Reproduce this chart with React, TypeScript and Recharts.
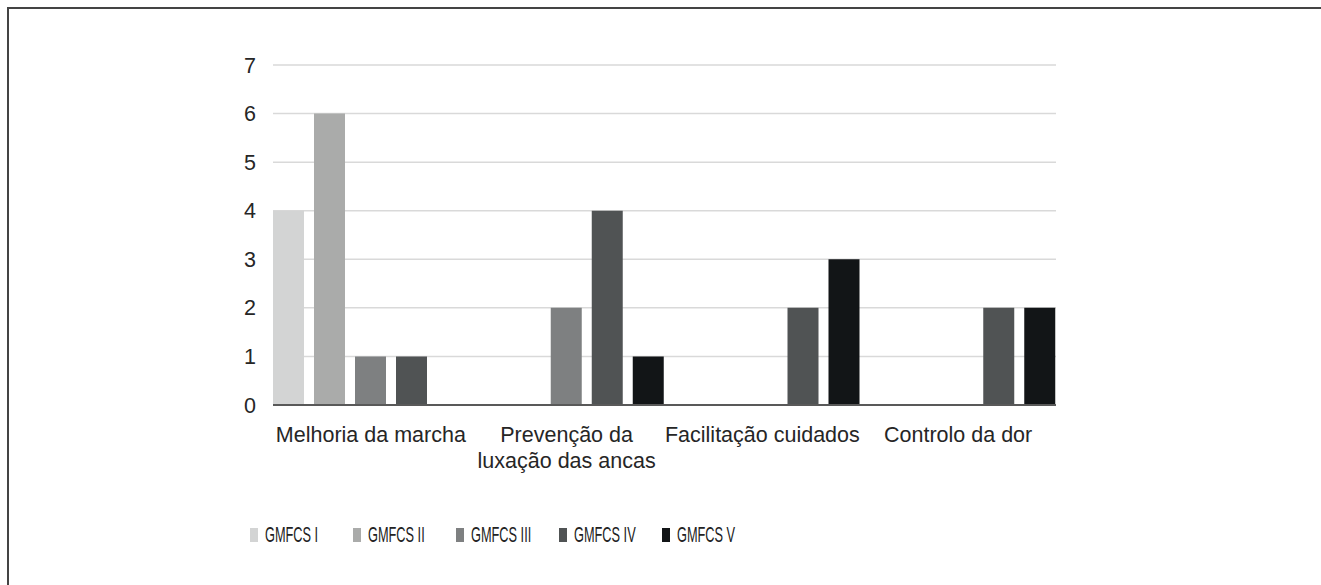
import React from "react";
import { BarChart, Bar, XAxis, YAxis, CartesianGrid, Legend } from "recharts";

const categories = [
  "Melhoria da marcha",
  "Prevenção da\nluxação das ancas",
  "Facilitação cuidados",
  "Controlo da dor",
];

const gmfcs1 = [4, 0, 0, 0];
const gmfcs2 = [6, 0, 0, 0];
const gmfcs3 = [1, 2, 0, 0];
const gmfcs4 = [1, 4, 2, 2];
const gmfcs5 = [0, 1, 3, 2];

const yTicks = [0, 1, 2, 3, 4, 5, 6, 7];

const series = [
  { key: "g1", name: "GMFCS I", values: gmfcs1, color: "#d3d4d4" },
  { key: "g2", name: "GMFCS II", values: gmfcs2, color: "#aaabaa" },
  { key: "g3", name: "GMFCS III", values: gmfcs3, color: "#7e8081" },
  { key: "g4", name: "GMFCS IV", values: gmfcs4, color: "#505354" },
  { key: "g5", name: "GMFCS V", values: gmfcs5, color: "#121517" },
];

const data = categories.map((name, i) => {
  const row: Record<string, string | number> = { name };
  series.forEach((s) => {
    row[s.key] = s.values[i];
  });
  return row;
});

const FONT = "'Liberation Sans', Arial, Helvetica, sans-serif";

function CategoryTick(props: any) {
  const { x, y, payload } = props;
  const lines = String(payload.value).split("\n");
  return (
    <text x={x} y={y} textAnchor="middle" fill="#262626" fontSize={21.5} fontFamily={FONT}>
      {lines.map((line, i) => (
        <tspan key={i} x={x} dy={i === 0 ? 37 : 26}>
          {line}
        </tspan>
      ))}
    </text>
  );
}

function LegendContent() {
  return (
    <div style={{ display: "flex", paddingLeft: 250, height: 40, alignItems: "center" }}>
      {series.map((s) => (
        <div key={s.key} style={{ width: 103, flexShrink: 0, display: "flex", alignItems: "center" }}>
          <span style={{ display: "inline-block", flexShrink: 0, width: 8, height: 14, background: s.color }} />
          <span
            style={{
              display: "inline-block",
              marginLeft: 7,
              fontSize: 22,
              lineHeight: "22px",
              fontFamily: FONT,
              color: "#222",
              transform: "scaleX(0.58)",
              transformOrigin: "left center",
              whiteSpace: "nowrap",
            }}
          >
            {s.name}
          </span>
        </div>
      ))}
    </div>
  );
}

export default function App() {
  return (
    <div style={{ position: "absolute", left: 0, top: 0, width: 1321, height: 585, background: "#fff" }}>
      <div
        style={{
          position: "absolute",
          left: 7,
          top: 7,
          width: 1314,
          height: 578,
          borderTop: "2px solid #444",
          borderLeft: "2px solid #444",
          boxSizing: "border-box",
        }}
      />
      <BarChart
        width={1321}
        height={585}
        data={data}
        margin={{ top: 65, right: 265, left: 0, bottom: 30 }}
        barCategoryGap={0}
        barGap={10}
      >
        <CartesianGrid vertical={false} stroke="#d9d9d9" strokeWidth={1.5} />
        <XAxis
          dataKey="name"
          height={110}
          tickLine={false}
          tickSize={0}
          tickMargin={0}
          axisLine={{ stroke: "#595959", strokeWidth: 2 }}
          tick={<CategoryTick />}
          interval={0}
        />
        <YAxis
          width={273}
          domain={[0, 7]}
          ticks={yTicks}
          tickLine={false}
          axisLine={false}
          tickSize={0}
          tickMargin={17}
          tick={{ fill: "#262626", fontSize: 21.5, fontFamily: FONT }}
        />
        <Legend verticalAlign="bottom" content={<LegendContent />} wrapperStyle={{ left: 0, width: 1321 }} />
        {series.map((s) => (
          <Bar key={s.key} dataKey={s.key} name={s.name} fill={s.color} isAnimationActive={false} />
        ))}
      </BarChart>
    </div>
  );
}
